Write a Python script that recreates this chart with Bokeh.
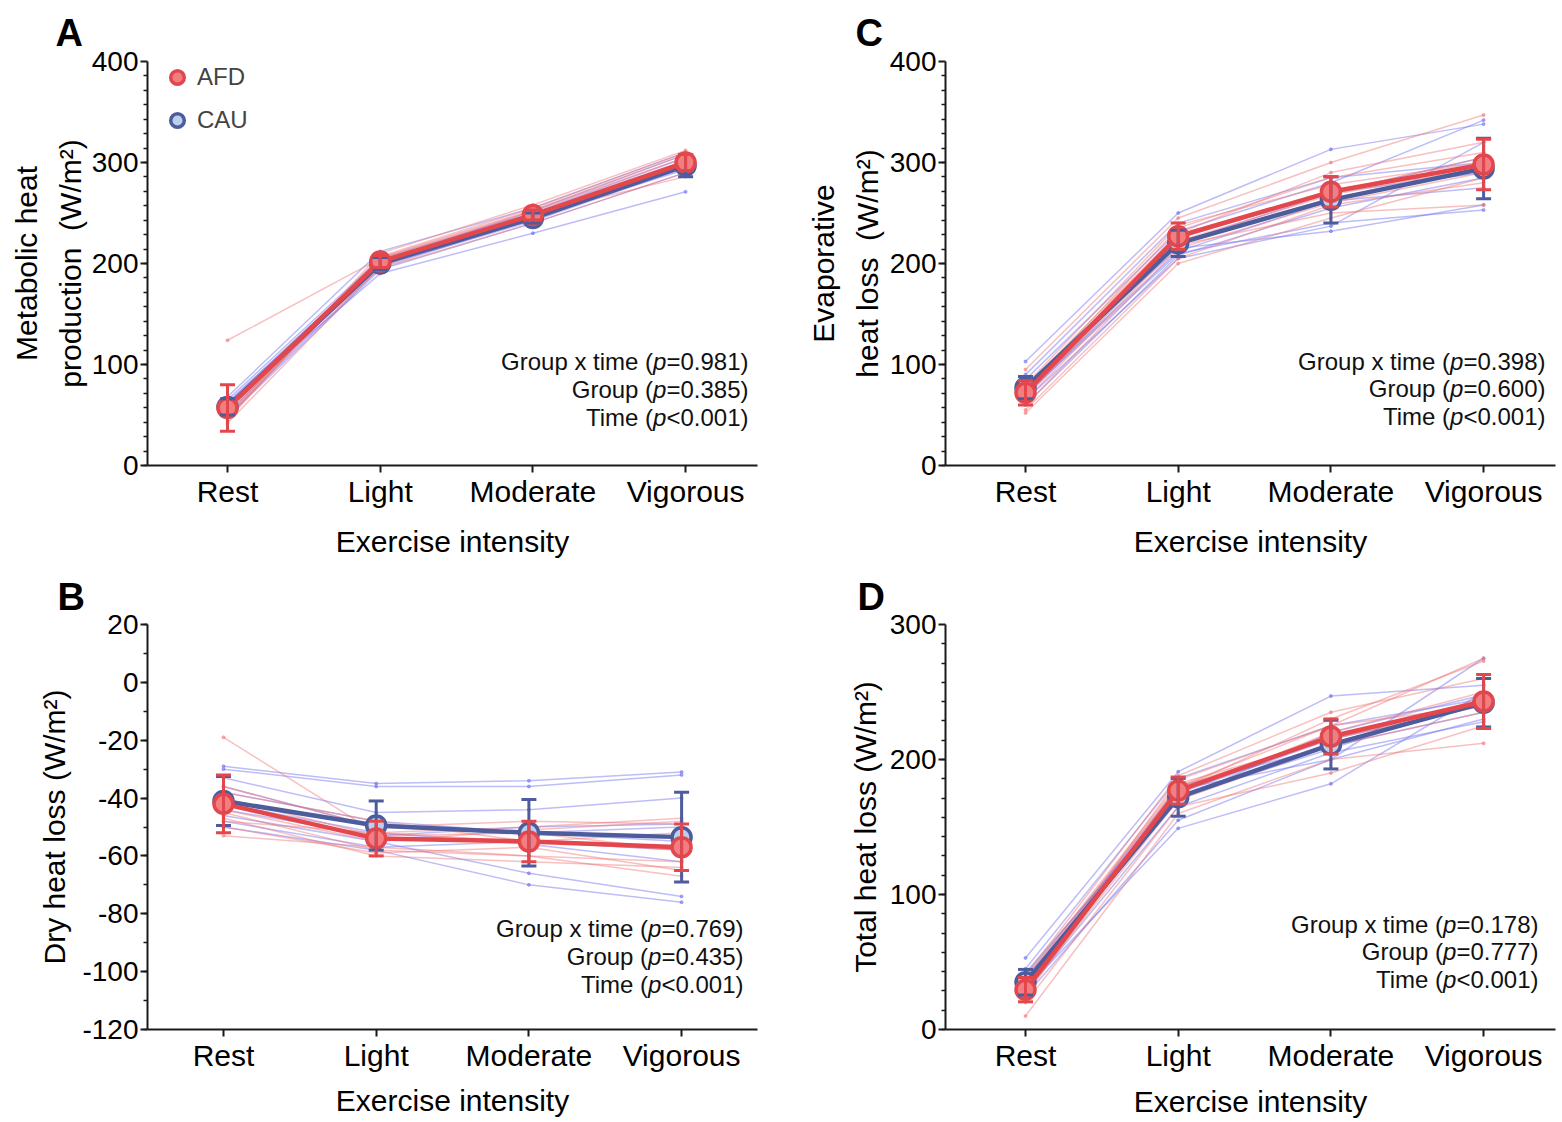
from bokeh.plotting import figure
from bokeh.models import (ColumnDataSource, Whisker, TeeHead, Label, Legend, LegendItem,
                          LinearAxis, FixedTicker)
from bokeh.layouts import column, row
from bokeh.embed import file_html
from bokeh.resources import INLINE

FONT = "Liberation Sans"

# ---------------- data ----------------
CATEGORIES = ["Rest", "Light", "Moderate", "Vigorous"]
GROUPS = ["AFD", "CAU"]

# Panel A: Metabolic heat production (W/m2)
A_AFD_MEAN = [57, 202, 248, 300]
A_AFD_SD = [23, 6, 5, 8]
A_CAU_MEAN = [58, 200, 245, 297]
A_CAU_SD = [8, 6, 5, 11]
A_AFD_IND = [
    [124, 205, 252, 305], [52, 200, 247, 298], [48, 203, 250, 302], [55, 198, 245, 295],
    [45, 210, 258, 312], [60, 195, 240, 290], [50, 206, 253, 308], [58, 201, 244, 296],
    [47, 207, 255, 310], [42, 197, 249, 286],
]
A_CAU_IND = [
    [68, 212, 255, 310], [60, 190, 230, 271], [55, 198, 242, 295], [62, 203, 248, 300],
    [50, 196, 244, 298], [65, 205, 250, 305], [58, 199, 246, 293], [52, 201, 243, 296],
    [48, 194, 240, 290], [62, 202, 252, 308],
]
A_STATS = [("Group x time", "=0.981"), ("Group", "=0.385"), ("Time", "<0.001")]

# Panel B: Dry heat loss (W/m2)
B_AFD_MEAN = [-42, -54, -55, -57]
B_AFD_SD = [10, 6, 7, 8]
B_CAU_MEAN = [-41, -49.5, -52, -53.5]
B_CAU_SD = [8.5, 8.5, 11.5, 15.5]
B_AFD_IND = [
    [-19, -52, -55, -52], [-36, -50, -48, -49], [-45, -58, -60, -62], [-50, -59, -57, -65],
    [-40, -53, -52, -58], [-53, -57, -60, -67], [-44, -55, -51, -48], [-38, -48, -55, -58],
    [-47, -60, -62, -64], [-48, -52, -50, -47],
]
B_CAU_IND = [
    [-29, -35, -34, -31], [-30, -36, -36, -32], [-33, -45, -44, -40], [-38, -48, -52, -50],
    [-42, -52, -56, -62], [-46, -55, -66, -74], [-50, -58, -70, -76], [-44, -53, -50, -49],
    [-48, -57, -55, -58], [-36, -50, -52, -55],
]
B_STATS = [("Group x time", "=0.769"), ("Group", "=0.435"), ("Time", "<0.001")]

# Panel C: Evaporative heat loss (W/m2)
C_AFD_MEAN = [72, 227, 271, 298]
C_AFD_SD = [12, 13, 15, 25]
C_CAU_MEAN = [77, 220, 263, 294]
C_CAU_SD = [11, 13, 23, 30]
C_AFD_IND = [
    [95, 245, 300, 347], [60, 215, 260, 290], [75, 235, 285, 310], [55, 205, 258, 280],
    [68, 225, 270, 305], [80, 238, 278, 300], [65, 218, 250, 258], [52, 200, 245, 285],
    [78, 230, 290, 320], [70, 222, 268, 295],
]
C_CAU_IND = [
    [103, 250, 313, 338], [85, 232, 280, 342], [70, 210, 240, 253], [80, 215, 232, 258],
    [65, 205, 237, 320], [75, 225, 270, 305], [90, 240, 285, 300], [60, 208, 255, 285],
    [72, 212, 262, 275], [68, 220, 270, 290],
]
C_STATS = [("Group x time", "=0.398"), ("Group", "=0.600"), ("Time", "<0.001")]

# Panel D: Total heat loss (W/m2)
D_AFD_MEAN = [29.5, 177, 217, 243]
D_AFD_SD = [9, 10, 13, 20]
D_CAU_MEAN = [35, 172, 211, 242]
D_CAU_SD = [9.5, 14, 18, 18]
D_AFD_IND = [
    [10, 160, 200, 212], [25, 180, 225, 275], [40, 188, 235, 260], [35, 175, 220, 250],
    [28, 170, 210, 235], [30, 185, 225, 240], [20, 165, 190, 225], [38, 182, 215, 245],
    [32, 178, 230, 273], [37, 180, 215, 240],
]
D_CAU_IND = [
    [53, 191, 247, 255], [45, 186, 225, 245], [30, 149, 182, 250], [25, 155, 200, 275],
    [40, 175, 215, 240], [35, 180, 210, 235], [28, 165, 205, 228], [38, 170, 220, 248],
    [33, 178, 200, 230], [42, 172, 208, 245],
]
D_STATS = [("Group x time", "=0.178"), ("Group", "=0.777"), ("Time", "<0.001")]

# ---------------- style ----------------
RED = "#E3474C"
RED_FILL = "#F27E81"
BLUE = "#4C5C9C"
BLUE_FILL = "#BCD0EC"
RED_THIN = "#F07474"
BLUE_THIN = "#6C6CF0"
AXIS_C = "#1a1a1a"

CHAR_W = {"=": 0.584, "<": 0.584, ".": 0.278, ")": 0.333, "(": 0.333, "p": 0.556}


def text_w(s, size):
    return sum(CHAR_W.get(ch, 0.556) for ch in s) * size


def make_panel(cfg):
    fl, ft, fw, fh = cfg["frame"]
    ox, oy = cfg["origin"]
    W, H = cfg["size"]
    x0 = cfg["x0"]
    spacing = cfg["spacing"]
    x1 = x0 + fw / spacing
    y0, y1 = cfg["ylim"]

    def to_data(px, py):
        dx = x0 + (px - fl) / spacing
        dy = y1 - (py - ft) / fh * (y1 - y0)
        return dx, dy

    p = figure(width=W, height=H, x_range=(x0, x1), y_range=(y0, y1),
               output_backend="svg", toolbar_location=None,
               min_border_left=fl - ox, min_border_top=ft - oy,
               min_border_right=W - (fl - ox) - fw,
               min_border_bottom=H - (ft - oy) - fh)
    p.outline_line_color = None
    p.grid.grid_line_color = None
    p.background_fill_color = "white"

    # panel letter as the title
    p.title.text = cfg["letter"]
    p.title.align = "left"
    p.title.vertical_align = "top"
    p.title.offset = cfg["letter_x"] - fl
    p.title.standoff = cfg["letter_standoff"]
    p.title.text_font = FONT
    p.title.text_font_size = "38px"
    p.title.text_font_style = "bold"
    p.title.text_color = "black"

    xs = list(range(len(CATEGORIES)))

    # axes
    xa = p.xaxis[0]
    xa.ticker = FixedTicker(ticks=xs)
    xa.major_label_overrides = {i: c for i, c in enumerate(CATEGORIES)}
    ya = p.yaxis[0]
    ya.ticker = FixedTicker(ticks=cfg["major"], minor_ticks=cfg["minor"])
    ya.major_label_overrides = {v: str(v) for v in cfg["major"]}
    for ax in (xa, ya):
        ax.axis_line_width = 2
        ax.axis_line_color = AXIS_C
        ax.major_tick_line_width = 2
        ax.major_tick_line_color = AXIS_C
        ax.major_tick_in = 0
        ax.major_tick_out = 7
        ax.minor_tick_in = 0
        ax.minor_tick_out = 4
        ax.minor_tick_line_width = 1.5
        ax.minor_tick_line_color = AXIS_C
        ax.major_label_text_font = FONT
        ax.major_label_text_color = "black"
        ax.major_label_standoff = 2
        ax.axis_label_text_font = FONT
        ax.axis_label_text_font_style = "normal"
        ax.axis_label_text_color = "black"
        ax.axis_label_text_font_size = "30px"
    xa.minor_tick_line_color = None
    xa.major_label_text_font_size = "30px"
    ya.major_label_text_font_size = "28px"
    xa.axis_label = "Exercise intensity"
    xa.axis_label_standoff = cfg["xstand"]
    ya.axis_label = cfg["ylabel"][-1]
    ya.axis_label_standoff = cfg["ystand"][0]
    if len(cfg["ylabel"]) > 1:
        extra = LinearAxis(axis_label=cfg["ylabel"][0], ticker=FixedTicker(ticks=[]),
                           axis_line_color=None, major_tick_line_color=None,
                           minor_tick_line_color=None, major_tick_out=0, major_tick_in=0,
                           minor_tick_out=0, minor_tick_in=0,
                           major_label_text_font_size="0px", major_label_standoff=0,
                           axis_label_text_font=FONT, axis_label_text_font_style="normal",
                           axis_label_text_color="black", axis_label_text_font_size="30px",
                           axis_label_standoff=cfg["ystand"][1])
        p.add_layout(extra, "left")

    # individual lines
    for ind, col in ((cfg["cau_ind"], BLUE_THIN), (cfg["afd_ind"], RED_THIN)):
        p.multi_line(xs=[xs] * len(ind), ys=ind, line_color=col, line_width=1.5, line_alpha=0.45)
        p.scatter(x=xs * len(ind), y=[v for r in ind for v in r], size=3,
                  color=col, alpha=0.55)

    rends = {}
    for g, mean, sd, col, fill in (("CAU", cfg["cau_mean"], cfg["cau_sd"], BLUE, BLUE_FILL),
                                   ("AFD", cfg["afd_mean"], cfg["afd_sd"], RED, RED_FILL)):
        src = ColumnDataSource(dict(x=xs, y=mean,
                                    upper=[m + s for m, s in zip(mean, sd)],
                                    lower=[m - s for m, s in zip(mean, sd)]))
        p.line("x", "y", source=src, line_color=col, line_width=4.5)
        wh = Whisker(base="x", upper="upper", lower="lower", source=src,
                     line_color=col, line_width=3, level="glyph",
                     upper_head=TeeHead(size=15, line_color=col, line_width=3),
                     lower_head=TeeHead(size=15, line_color=col, line_width=3))
        p.add_layout(wh)
        rends[g] = p.scatter("x", "y", source=src, size=19, fill_color=fill,
                             line_color=col, line_width=3.5)

    # stats text
    sx, _ = to_data(cfg["stats_pos"][0], 0)
    size = 24
    for i, (pre, val) in enumerate(cfg["stats"]):
        _, sy = to_data(0, cfg["stats_pos"][1] + 28 * i)
        suf = val + ")"
        ws = text_w(suf, size)
        wp = text_w("p", size)
        common = dict(x=sx, y=sy, text_align="right", text_baseline="middle",
                      text_font=FONT, text_font_size=f"{size}px", text_color="#111111")
        p.add_layout(Label(text=suf, **common))
        p.add_layout(Label(text="p", x_offset=-ws, text_font_style="italic", **common))
        p.add_layout(Label(text=pre + " (", x_offset=-(ws + wp), **common))

    if cfg.get("legend"):
        gh, gap = 34, 9
        leg = Legend(items=[LegendItem(label="AFD", renderers=[rends["AFD"]]),
                            LegendItem(label="CAU", renderers=[rends["CAU"]])],
                     location=(10, fh - (2 * gh + gap)), orientation="vertical",
                     glyph_width=40, glyph_height=gh, label_height=gh, spacing=gap,
                     padding=0, margin=0, border_line_color=None, background_fill_alpha=0,
                     label_text_font=FONT, label_text_font_size="24px", label_standoff=0)
        p.add_layout(leg)
    return p


pA = make_panel(dict(frame=(147, 61, 610, 405), origin=(0, 0), size=(781, 560),
                     x0=-80 / 152.7, spacing=152.7, ylim=(0, 400),
                     major=[0, 100, 200, 300, 400],
                     minor=[v * 100 / 7 for v in range(28)],
                     ylabel=["Metabolic heat", "production\u00a0 (W/m\u00b2)"], ystand=(2, 8),
                     xstand=14, afd_mean=A_AFD_MEAN, afd_sd=A_AFD_SD, cau_mean=A_CAU_MEAN,
                     cau_sd=A_CAU_SD, afd_ind=A_AFD_IND, cau_ind=A_CAU_IND, stats=A_STATS,
                     stats_pos=(748, 362), letter="A", letter_x=55, letter_standoff=12,
                     legend=True))
pC = make_panel(dict(frame=(945, 61, 610, 406), origin=(781, 0), size=(779, 560),
                     x0=-80 / 152.7, spacing=152.7, ylim=(0, 400),
                     major=[0, 100, 200, 300, 400],
                     minor=[v * 100 / 7 for v in range(28)],
                     ylabel=["Evaporative", "heat loss\u00a0 (W/m\u00b2)"], ystand=(3, 8),
                     xstand=14, afd_mean=C_AFD_MEAN, afd_sd=C_AFD_SD, cau_mean=C_CAU_MEAN,
                     cau_sd=C_CAU_SD, afd_ind=C_AFD_IND, cau_ind=C_CAU_IND, stats=C_STATS,
                     stats_pos=(1545, 362), letter="C", letter_x=855, letter_standoff=12))
pB = make_panel(dict(frame=(147, 624, 610, 407), origin=(0, 560), size=(781, 560),
                     x0=-76 / 152.7, spacing=152.7, ylim=(-120, 20),
                     major=[-120, -100, -80, -60, -40, -20, 0, 20],
                     minor=list(range(-120, 21, 10)),
                     ylabel=["Dry heat loss (W/m\u00b2)"], ystand=(8, 0),
                     xstand=9, afd_mean=B_AFD_MEAN, afd_sd=B_AFD_SD, cau_mean=B_CAU_MEAN,
                     cau_sd=B_CAU_SD, afd_ind=B_AFD_IND, cau_ind=B_CAU_IND, stats=B_STATS,
                     stats_pos=(743, 930), letter="B", letter_x=57, letter_standoff=10))
pD = make_panel(dict(frame=(945, 624, 610, 407), origin=(781, 560), size=(779, 560),
                     x0=-80 / 152.7, spacing=152.7, ylim=(0, 300),
                     major=[0, 100, 200, 300],
                     minor=[v * 100 / 7 for v in range(21)],
                     ylabel=["Total heat loss (W/m\u00b2)"], ystand=(5, 0),
                     xstand=10, afd_mean=D_AFD_MEAN, afd_sd=D_AFD_SD, cau_mean=D_CAU_MEAN,
                     cau_sd=D_CAU_SD, afd_ind=D_AFD_IND, cau_ind=D_CAU_IND, stats=D_STATS,
                     stats_pos=(1538, 925), letter="D", letter_x=857, letter_standoff=10))

layout = column(row(pA, pC, spacing=0), row(pB, pD, spacing=0), spacing=0)
open("out.html", "w").write(file_html(layout, INLINE))
